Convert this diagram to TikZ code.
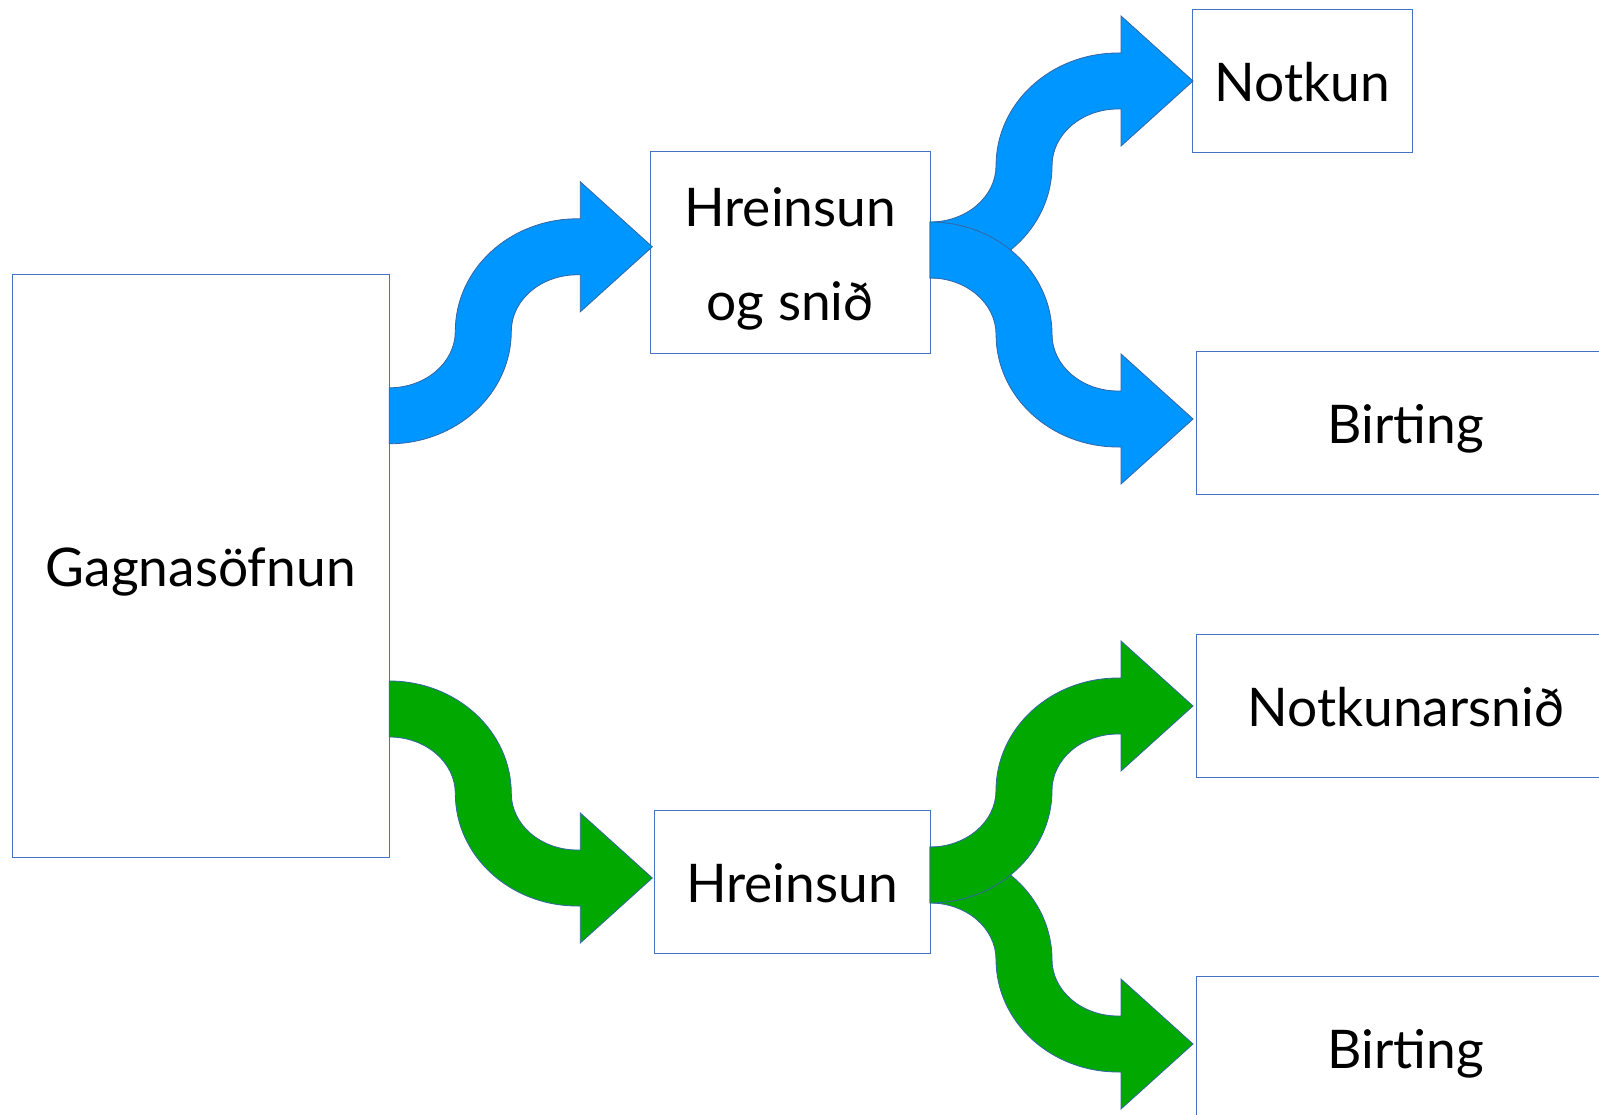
\documentclass[tikz,border=0pt]{standalone}
\usepackage{fontspec}
\setmainfont{Lato}
\definecolor{boxline}{RGB}{68,114,196}
\definecolor{arrline}{RGB}{52,101,164}
\definecolor{arrblue}{RGB}{0,150,255}
\definecolor{arrgreen}{RGB}{0,168,0}
\tikzset{
  box/.style={draw=boxline, line width=1pt, fill=white, inner sep=0pt, outer sep=0pt,
    align=center, font=\fontsize{53.3}{94}\selectfont, text height=41pt, text depth=0pt},
  bluearr/.style={fill=arrblue, draw=arrline, line width=0.8pt, line join=miter},
  greenarr/.style={fill=arrgreen, draw=arrline, line width=0.8pt, line join=miter}
}
\newcommand\SArrow[3]{%
  \begin{scope}[shift={#2}, yscale=#3]
    \path[#1] (0,-28)
      arc[start angle=-90, end angle=0, x radius=122, y radius=112.5]
      arc[start angle=180, end angle=90, x radius=66, y radius=56.5]
      -- (191,141) -- (191,104) -- (263,169) -- (191,234) -- (191,197) -- (188,197)
      arc[start angle=90, end angle=180, x radius=122, y radius=112.5]
      arc[start angle=0, end angle=-90, x radius=66, y radius=56.5]
      -- cycle;
  \end{scope}}
\begin{document}
\begin{tikzpicture}[x=1pt,y=-1pt]
\useasboundingbox (0,0) rectangle (1599,1115);
\node[box, minimum width=377pt, minimum height=583.4pt] (g) at (200.8,566) {Gagnasöfnun};
\node[box, minimum width=279.7pt, minimum height=201.6pt, text height=136pt, text depth=0pt] (hos) at (790.2,252.5) {Hreinsun\\og snið};
\node[box, minimum width=220.3pt, minimum height=143pt] (n1) at (1302.2,81.2) {Notkun};
\node[box, minimum width=420pt, minimum height=142.6pt] (b1) at (1406,423) {Birting};
\node[box, minimum width=276pt, minimum height=143.3pt] (hr) at (792,881.7) {Hreinsun};
\node[box, minimum width=420pt, minimum height=143.4pt] (ns) at (1406,706) {Notkunarsnið};
\node[box, minimum width=420pt, minimum height=143pt] (b2) at (1406,1047.5) {Birting};
% blue arrows
\SArrow{bluearr}{(g.east |- 0,415.8)}{-1}
\SArrow{bluearr}{(hos.east |- 0,250)}{-1}
\SArrow{bluearr}{(hos.east |- 0,250)}{1}
% green arrows
\SArrow{greenarr}{(g.east |- 0,709)}{1}
\SArrow{greenarr}{(hr.east |- 0,875)}{1}
\SArrow{greenarr}{(hr.east |- 0,875)}{-1}
\end{tikzpicture}
\end{document}
